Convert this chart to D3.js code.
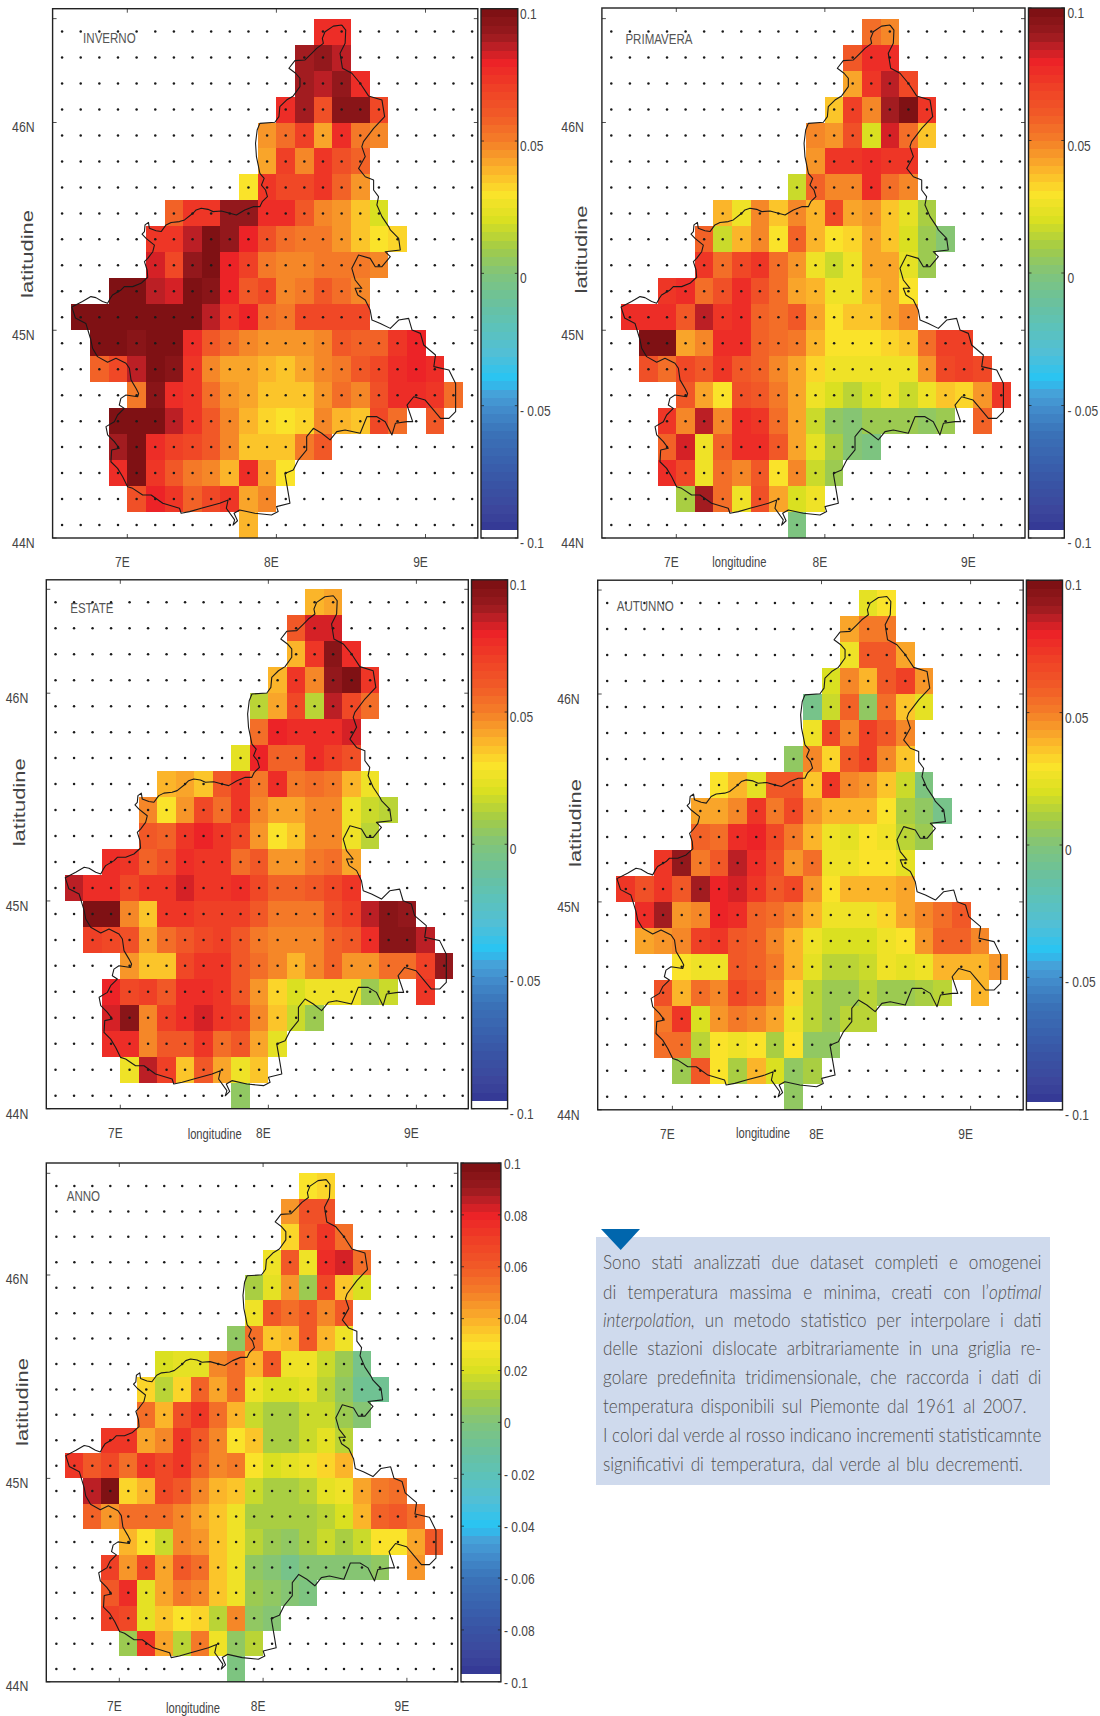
<!DOCTYPE html>
<html><head><meta charset="utf-8">
<script src="https://cdn.jsdelivr.net/npm/d3@7/dist/d3.min.js"></script>
<style>html,body{margin:0;padding:0;background:#fff}svg{display:block}</style>
</head><body><svg id="c" width="1100" height="1716"></svg>
<script>
// Each row: first item = index of first filled longitude column, then trend values (x 0.001)
const inverno = [
[14,76,76],
[13,88,92,85],
[13,90,87,93,78],
[12,78,90,64,96,96,68],
[11,45,55,70,43,76,53,47],
[11,42,70,50,72,64,58],
[10,30,74,66,66,72,58,44],
[6,57,74,72,92,92,76,78,62,49,45,35,20],
[5,75,74,86,97,92,80,64,55,53,53,44,36,29,33],
[5,84,66,92,99,80,69,52,47,49,52,52,52,50],
[3,100,100,87,84,98,95,80,62,67,47,53,62,55,50],
[1,100,100,100,100,100,100,97,85,73,80,56,52,66,66,66,66],
[2,100,100,96,100,100,78,60,55,49,44,44,44,50,60,58,58,72,80],
[2,58,68,85,100,94,72,48,42,42,40,36,43,48,52,60,68,78,79,76],
[4,52,94,76,74,54,44,41,37,37,37,44,56,50,64,76,76,72,55],
[3,100,100,100,87,74,60,47,39,32,29,32,48,39,36,66,55,null,60],
[3,90,100,76,70,68,62,47,37,37,37,52,60],
[3,76,100,72,60,52,50,38,77,42,30],
[4,64,80,74,57,67,74,42,48],
[10,38]];
const primavera = [
[14,54,50],
[13,60,76,76],
[13,41,74,87,68],
[12,37,70,50,90,100,74],
[11,48,45,64,20,84,56,37],
[11,44,74,74,76,74,74],
[10,18,58,50,49,76,56,47],
[6,38,27,48,36,47,38,68,42,45,37,22,11],
[5,58,18,38,47,30,58,38,30,33,41,37,20,7,2],
[5,74,55,66,72,56,44,27,18,25,42,42,22,8],
[3,74,78,55,63,78,63,55,42,38,26,26,38,41,30],
[1,76,76,76,62,86,75,76,59,55,60,42,30,35,37,41,50],
[2,100,100,43,48,76,78,58,55,52,40,30,30,30,34,36,54,70,70],
[2,64,55,68,62,72,62,57,50,42,33,27,27,27,27,26,46,66,70,68],
[4,60,42,30,64,62,52,41,27,20,15,20,26,18,25,36,34,44,74],
[3,74,50,85,50,76,74,55,41,18,6,2,8,8,8,5,9,null,58],
[3,58,84,28,58,76,76,62,43,24,11,3,-3],
[3,78,66,28,56,48,60,30,50,17,8],
[4,10,88,56,26,64,42,20,25],
[10,-3]];
const estate = [
[14,39,41],
[13,62,82,84],
[13,40,74,94,76],
[12,38,72,47,92,99,73],
[11,14,41,66,15,86,66,55],
[11,55,80,78,78,76,84],
[10,22,80,58,58,78,70,63],
[6,39,41,35,62,74,52,76,52,55,53,38,27],
[5,47,30,44,68,54,75,50,43,43,50,50,28,16,15],
[5,62,58,74,80,74,68,44,31,35,48,49,28,14],
[3,76,72,57,65,78,74,72,56,62,44,46,52,56,42],
[1,86,78,78,68,74,74,84,74,72,76,68,57,57,60,68,74],
[2,99,99,47,37,72,74,70,70,70,62,52,52,52,64,70,86,96,92],
[2,70,68,63,42,54,62,68,70,62,53,50,50,50,58,62,78,94,94,85],
[4,44,35,35,68,73,72,62,54,47,39,49,58,46,46,54,54,70,92],
[3,80,66,70,62,78,78,72,60,45,34,21,27,25,25,9,16,null,72],
[3,84,94,48,70,78,82,74,70,47,35,17,8],
[3,78,78,48,62,62,72,54,62,42,24],
[4,26,86,70,35,62,41,26,35],
[10,5]];
const autunno = [
[14,24,30],
[13,42,52,52],
[13,27,62,60,43],
[12,20,48,38,62,70,46],
[11,-4,18,58,5,56,36,24],
[11,27,68,50,70,60,48],
[10,5,48,32,60,70,50,35],
[6,31,38,24,60,62,36,72,49,46,35,17,-3],
[5,43,42,48,72,52,66,45,40,40,40,31,12,4,-6],
[5,58,56,76,80,68,52,38,28,24,29,26,14,9],
[3,72,92,52,62,85,76,64,46,54,28,27,31,30,24],
[1,72,64,74,62,88,80,82,72,60,68,46,31,39,39,39,42],
[2,78,90,46,48,80,76,58,54,47,38,26,26,27,32,41,50,56,60],
[2,42,44,50,70,72,62,58,48,38,28,20,20,20,27,31,44,58,58,49],
[4,31,26,27,62,58,52,38,23,15,13,17,25,24,27,38,38,38,46],
[3,64,40,54,48,66,60,48,34,15,8,7,14,9,8,12,14,null,38],
[3,52,72,19,46,52,50,41,27,15,9,15,15],
[3,55,55,14,30,27,31,11,31,6,6],
[4,9,60,30,10,38,19,5,10],
[10,4]];
const anno = [
[14,30,34],
[13,46,64,64],
[13,33,60,74,56],
[12,26,62,27,76,82,56],
[11,10,24,46,7,66,36,19],
[11,25,60,54,60,50,60],
[10,5,55,37,40,60,40,26],
[6,20,23,22,48,56,38,60,26,26,18,8,-5],
[5,32,15,34,58,43,54,26,19,19,23,14,6,-7,-8],
[5,56,40,64,72,54,38,17,10,10,18,18,7,1],
[3,72,74,42,48,74,62,50,31,36,11,10,17,22,14],
[1,72,62,66,56,72,68,72,57,47,52,31,20,23,26,33,38],
[2,86,98,34,38,68,62,47,40,36,18,12,12,15,24,27,43,52,56],
[2,58,44,54,56,56,50,43,35,25,12,10,10,10,14,20,38,57,62,56],
[4,40,30,18,50,45,36,25,14,9,6,10,16,12,17,30,30,41,60],
[3,70,44,68,42,60,54,37,25,5,0,-4,3,3,3,2,6,null,45],
[3,60,76,24,42,52,48,37,25,9,5,0,-3],
[3,70,66,24,35,30,33,13,48,6,0],
[4,7,74,42,13,52,26,6,15],
[10,-3]];

// Piemonte boundary, [lon, lat]
const boundary = [[8.439,46.469],[8.382,46.464],[8.326,46.437],[8.308,46.405],[8.315,46.381],[8.270,46.357],[8.237,46.333],[8.192,46.301],[8.124,46.298],[8.084,46.261],[8.129,46.237],[8.158,46.213],[8.158,46.173],[8.113,46.128],[8.068,46.108],[8.023,46.076],[8.017,46.028],[7.990,46.001],[7.889,45.996],[7.871,45.964],[7.860,45.900],[7.866,45.836],[7.878,45.795],[7.889,45.755],[7.918,45.731],[7.900,45.699],[7.927,45.675],[7.940,45.643],[7.905,45.619],[7.889,45.595],[7.844,45.595],[7.788,45.579],[7.732,45.555],[7.687,45.563],[7.631,45.574],[7.575,45.571],[7.541,45.582],[7.496,45.587],[7.462,45.579],[7.440,45.563],[7.384,45.531],[7.350,45.523],[7.294,45.519],[7.260,45.507],[7.227,45.475],[7.193,45.479],[7.148,45.491],[7.142,45.519],[7.119,45.507],[7.115,45.475],[7.099,45.463],[7.126,45.442],[7.182,45.410],[7.171,45.378],[7.137,45.346],[7.115,45.330],[7.133,45.290],[7.137,45.255],[7.092,45.226],[7.036,45.210],[6.980,45.210],[6.958,45.194],[6.901,45.170],[6.886,45.154],[6.868,45.130],[6.834,45.138],[6.789,45.157],[6.756,45.162],[6.699,45.138],[6.628,45.112],[6.652,45.059],[6.722,45.033],[6.756,44.953],[6.767,44.913],[6.800,44.873],[6.868,44.846],[6.924,44.865],[6.991,44.841],[7.014,44.817],[7.025,44.761],[7.059,44.720],[7.076,44.696],[7.070,44.680],[6.991,44.688],[6.957,44.672],[6.946,44.640],[6.980,44.624],[6.935,44.592],[6.913,44.560],[6.857,44.536],[6.868,44.496],[6.913,44.464],[6.946,44.432],[6.895,44.424],[6.890,44.367],[6.935,44.335],[6.969,44.295],[7.002,44.247],[7.036,44.239],[7.103,44.207],[7.160,44.207],[7.238,44.167],[7.350,44.143],[7.361,44.119],[7.418,44.127],[7.496,44.143],[7.620,44.167],[7.676,44.183],[7.664,44.143],[7.720,44.087],[7.709,44.062],[7.739,44.083],[7.716,44.119],[7.754,44.135],[7.855,44.119],[7.967,44.111],[8.012,44.127],[8.001,44.151],[8.091,44.167],[8.080,44.215],[8.057,44.311],[8.113,44.327],[8.147,44.375],[8.203,44.424],[8.203,44.488],[8.248,44.528],[8.304,44.504],[8.360,44.472],[8.405,44.512],[8.461,44.520],[8.562,44.504],[8.607,44.584],[8.674,44.584],[8.730,44.560],[8.775,44.496],[8.798,44.552],[8.876,44.560],[8.914,44.560],[8.876,44.640],[8.921,44.680],[8.998,44.664],[9.045,44.624],[9.101,44.576],[9.157,44.576],[9.202,44.608],[9.202,44.744],[9.157,44.809],[9.056,44.825],[9.067,44.881],[8.988,44.929],[8.966,44.985],[8.910,45.001],[8.887,45.057],[8.820,45.049],[8.764,45.009],[8.697,45.033],[8.641,45.049],[8.629,45.097],[8.596,45.146],[8.546,45.170],[8.528,45.202],[8.573,45.202],[8.528,45.242],[8.506,45.298],[8.551,45.362],[8.629,45.346],[8.663,45.306],[8.708,45.306],[8.764,45.354],[8.730,45.378],[8.831,45.386],[8.820,45.442],[8.764,45.483],[8.753,45.499],[8.708,45.547],[8.674,45.603],[8.685,45.643],[8.652,45.675],[8.652,45.723],[8.596,45.739],[8.551,45.779],[8.596,45.836],[8.573,45.884],[8.584,45.908],[8.652,45.972],[8.726,46.028],[8.708,46.108],[8.618,46.128],[8.562,46.189],[8.506,46.237],[8.443,46.261],[8.427,46.333],[8.461,46.381],[8.465,46.445],[8.439,46.469]];

const lonTicks = [7,8,9];
const latTicks = [44,45,46,46.5];
const latLabels = [44,45,46];
const barTicksSeason = [0.1,0.05,0,-0.05,-0.1];
const barTicksYear = [0.1,0.08,0.06,0.04,0.02,0,-0.02,-0.04,-0.06,-0.08,-0.1];
const colorStops = [-0.1,-0.09,-0.08,-0.06,-0.05,-0.045,-0.04,-0.03,-0.02,-0.01,0,0.01,0.02,0.03,0.04,0.05,0.06,0.07,0.08,0.085,0.09,0.1];
const colorValues = ['#2e3192','#3c459b','#3953a4','#3a72b8','#4490cf','#45a3da','#27c4f4','#52bfd6','#5cc2b9','#6cc19a','#80c47b','#a4cc45','#d9e021','#fbe32a','#fbb02a','#f47f28','#f15a27','#ef4126','#ec2227','#c32026','#9a1b1f','#7a0f12'];
const textLines = [
 [["Sono stati analizzati due dataset completi e omogenei",0]],
 [["di temperatura massima e minima, creati con l’",0],["optimal",1]],
 [["interpolation,",1],[" un metodo statistico per interpolare i dati",0]],
 [["delle stazioni dislocate arbitrariamente in una griglia re-",0]],
 [["golare predefinita tridimensionale, che raccorda i dati di",0]],
 [["temperatura disponibili sul Piemonte dal 1961 al 2007.",0]],
 [["I colori dal verde al rosso indicano incrementi statisticamnte",0]],
 [["significativi di temperatura, dal verde al blu decrementi.",0]]];

// Layout
const panels = [
 {title:'INVERNO',data:inverno,L:52.6,R:477.8,T:8.7,B:538,x7:127.3,x9:425.5,y44:538,y46:122.5,cL:481,cR:517.8,tx:83.1,ty:42.9,tsx:.77,latX:28.8,latY:254,lonX:null,lonY:0,barX:520,barDy:10,ticks:barTicksSeason,dy:9.7},
 {title:'PRIMAVERA',data:primavera,L:601.9,R:1025,T:8,B:538,x7:676.3,x9:973.4,y44:538,y46:122.5,cL:1028.5,cR:1064.3,tx:625.4,ty:43.6,tsx:.77,latX:582.3,latY:249.5,lonX:739.4,lonY:567,barX:1067.4,barDy:10,ticks:barTicksSeason,dy:9.7},
 {title:'ESTATE',data:estate,L:46.3,R:468.3,T:579.8,B:1108.7,x7:120.3,x9:416.4,y44:1108.7,y46:693.2,cL:471.5,cR:507.6,tx:70.2,ty:612.9,tsx:.77,latX:21,latY:802.3,lonX:214.7,lonY:1139,barX:509.7,barDy:10,ticks:barTicksSeason,dy:10},
 {title:'AUTUNNO',data:autunno,L:597.7,R:1023.2,T:580.2,B:1109.8,x7:672.4,x9:970.6,y44:1109.8,y46:694,cL:1026.4,cR:1062.5,tx:616.7,ty:610.7,tsx:.77,latX:577,latY:823,lonX:763,lonY:1137.8,barX:1065,barDy:10,ticks:barTicksSeason,dy:9.7},
 {title:'ANNO',data:anno,L:46.3,R:457.8,T:1163,B:1681.8,x7:119.3,x9:406.9,y44:1681.8,y46:1275,cL:461,cR:500.9,tx:66.7,ty:1200.5,tsx:.77,latX:23.5,latY:1402,lonX:193,lonY:1713,barX:504,barDy:5.7,ticks:barTicksYear,dy:9.3}
];

const svg = d3.select('#c');
const FONT = '"Liberation Sans",Arial,sans-serif';
const INK = '#444';
const NBANDS = 64;
const stopColor = d3.scaleLinear().domain(colorStops).range(colorValues).interpolate(d3.interpolateRgb);
const bandWidth = 0.2/NBANDS;
const palette = d3.range(NBANDS).map(i => i===0 ? '#ffffff' : stopColor(-0.1+(i+0.5)*bandWidth));
const colorOf = d3.scaleQuantize().domain([-0.1,0.1]).range(palette);

const LON0 = 6.5625, LAT0 = 46.4375, STEP = 0.125, NCOL = 23, NROW = 20;

function label(g,s,x,y,o={}){
  const sx = o.sx||.8, size=o.size||15;
  return g.append('text').attr('transform',`translate(${x},${y}) scale(${sx},1)`)
    .attr('text-anchor',o.anchor||'start').attr('font-family',FONT).attr('font-size',size)
    .attr('fill',o.fill||INK).text(s);
}

panels.forEach(p=>{
  const g = svg.append('g');
  const x = d3.scaleLinear().domain([7,9]).range([p.x7,p.x9]);
  const y = d3.scaleLinear().domain([44,46]).range([p.y44,p.y46]);
  const cells=[];
  p.data.forEach((row,r)=>{
    const start=row[0];
    row.slice(1).forEach((v,i)=>{ if(v!==null) cells.push({c:start+i,r,v:v/1000}); });
  });
  const lonOf=c=>LON0+c*STEP, latOf=r=>LAT0-r*STEP;
  g.append('g').selectAll('rect').data(cells).join('rect')
    .attr('x',d=>x(lonOf(d.c)-STEP/2))
    .attr('width',d=>x(lonOf(d.c)+STEP/2)-x(lonOf(d.c)-STEP/2))
    .attr('y',d=>y(latOf(d.r)+STEP/2))
    .attr('height',d=>y(latOf(d.r)-STEP/2)-y(latOf(d.r)+STEP/2))
    .attr('fill',d=>colorOf(d.v)).attr('shape-rendering','crispEdges');
  // boundary
  g.append('path').attr('d',d3.line().x(d=>x(d[0])).y(d=>y(d[1])).curve(d3.curveLinear)(boundary))
    .attr('fill','none').attr('stroke','#1a1a1a').attr('stroke-width',1.1).attr('stroke-linejoin','round');
  // grid dots
  const dots=d3.cross(d3.range(NCOL),d3.range(NROW));
  g.append('g').selectAll('circle').data(dots).join('circle')
    .attr('cx',d=>x(lonOf(d[0]))).attr('cy',d=>y(latOf(d[1]))).attr('r',1.25).attr('fill','#1a1a1a');
  // frame
  g.append('rect').attr('x',p.L).attr('y',p.T).attr('width',p.R-p.L).attr('height',p.B-p.T)
    .attr('fill','none').attr('stroke','#222').attr('stroke-width',1.4);
  // ticks
  const tick=(x1,y1,x2,y2)=>g.append('line').attr('x1',x1).attr('y1',y1).attr('x2',x2).attr('y2',y2).attr('stroke','#222').attr('stroke-width',.8);
  lonTicks.forEach(t=>{tick(x(t),p.B,x(t),p.B-4);tick(x(t),p.T,x(t),p.T+4);});
  latTicks.forEach(t=>{tick(p.L,y(t),p.L+4,y(t));tick(p.R,y(t),p.R-4,y(t));});
  // axis labels
  lonTicks.forEach(t=>label(g,t+'E',x(t)-5,p.B+29,{anchor:'middle'}));
  latLabels.forEach(t=>label(g,t+'N',p.L-18,y(t)+p.dy,{anchor:'end',sx:.82}));
  label(g,p.title,p.tx,p.ty,{sx:p.tsx,fill:'#555'});
  if(p.lonX!==null) label(g,'longitudine',p.lonX,p.lonY,{anchor:'middle',size:14,sx:.8});
  g.append('text').attr('transform',`translate(${p.latX},${p.latY}) rotate(-90) scale(1.1,.8)`)
    .attr('text-anchor','middle').attr('dominant-baseline','middle').attr('font-family',FONT).attr('font-size',20).attr('fill',INK).text('latitudine');
  // colour bar
  const cb = d3.scaleLinear().domain([-0.1,0.1]).range([p.B,p.T]);
  g.append('g').selectAll('rect').data(palette).join('rect')
    .attr('x',p.cL).attr('width',p.cR-p.cL)
    .attr('y',(d,i)=>cb(-0.1+(i+1)*bandWidth))
    .attr('height',(d,i)=>cb(-0.1+i*bandWidth)-cb(-0.1+(i+1)*bandWidth)+.5)
    .attr('fill',d=>d).attr('shape-rendering','crispEdges');
  g.append('rect').attr('x',p.cL).attr('y',p.T).attr('width',p.cR-p.cL).attr('height',p.B-p.T)
    .attr('fill','none').attr('stroke','#222').attr('stroke-width',1.4);
  p.ticks.forEach(t=>{
    tick(p.cL,cb(t),p.cL+3,cb(t)); tick(p.cR,cb(t),p.cR-3,cb(t));
    const s = t<0 ? '- '+(-t) : String(t);
    label(g,s,p.barX,cb(t)+p.barDy);
  });
});

// Text box
const box = svg.append('g');
box.append('rect').attr('x',596).attr('y',1237).attr('width',454).attr('height',248).attr('fill','#cfdaed');
box.append('path').attr('d','M601,1229H640L620.7,1250Z').attr('fill','#0066ad');
const baselines=[1269.3,1298.7,1327.3,1355.3,1384,1413.3,1442,1470.7];
const rightEdges=[1041.7,1041.7,1041.7,1041.7,1041.7,1026.7,1041.7,1023];
const TX=603, TSIZE=20;
const made = textLines.map((parts,i)=>{
  const t=box.append('text').attr('font-family','Lato,"Open Sans",sans-serif').attr('font-weight',300)
    .attr('font-size',TSIZE).attr('fill','#4f4f4f').style('white-space','pre');
  parts.forEach(([s,it])=>t.append('tspan').attr('font-style',it?'italic':'normal').text(s));
  return t;
});
const natural = made.map(t=>t.node().getComputedTextLength());
const gs = (rightEdges[6]-TX)/natural[6];
made.forEach((t,i)=>{
  const txt=textLines[i].map(d=>d[0]).join('');
  const n=(txt.match(/ /g)||[]).length;
  const ws=((rightEdges[i]-TX)/gs-natural[i])/n;
  t.attr('word-spacing',ws).attr('transform',`translate(${TX},${baselines[i]}) scale(${gs},1)`);
});
</script></body></html>
